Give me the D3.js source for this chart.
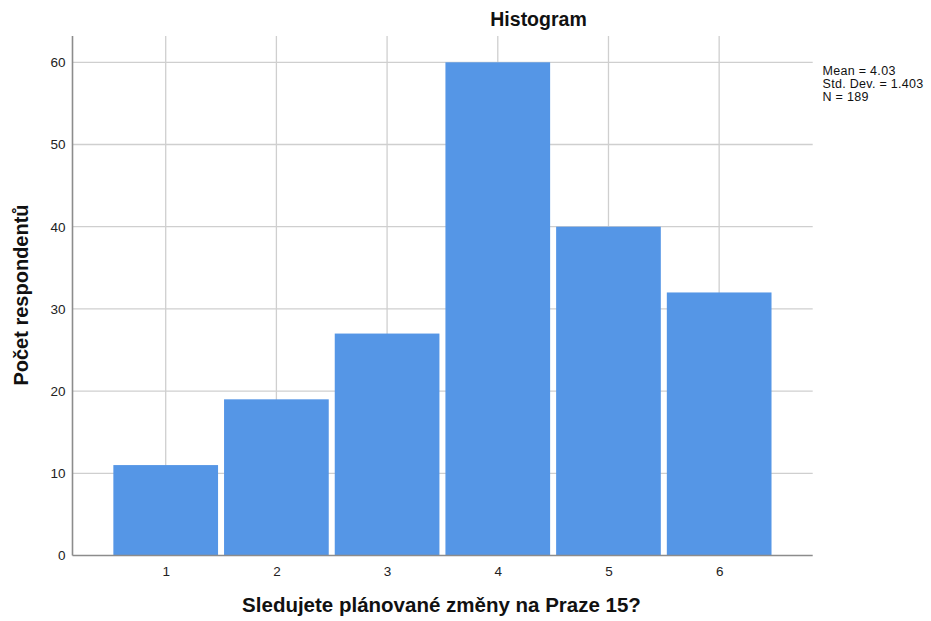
<!DOCTYPE html>
<html>
<head>
<meta charset="utf-8">
<script src="https://cdn.jsdelivr.net/npm/d3@7"></script>
<style>
  html, body { margin: 0; padding: 0; background: #fff; }
  svg { display: block; font-family: "Liberation Sans", Arial, sans-serif; }
</style>
</head>
<body>
<svg id="chart" width="931" height="621"></svg>
<script>
const categories = [1, 2, 3, 4, 5, 6];
const counts = [11, 19, 27, 60, 40, 32];
const yTicks = [0, 10, 20, 30, 40, 50, 60];
const statsLines = ["Mean = 4.03", "Std. Dev. = 1.403", "N = 189"];
const titleText = "Histogram";
const xLabel = "Sledujete plánované změny na Praze 15?";
const yLabel = "Počet respondentů";

const svg = d3.select("#chart");
const L = 72.5, R = 812.7, T = 36, B = 555.5;

const x = d3.scaleLinear().domain([0.158, 6.845]).range([L, R]);
const y = d3.scaleLinear().domain([0, 60]).range([B, 62.3]);

const barColor = "#5596E6";
const gridColor = "#cfcfcf";
const axisColor = "#8c8c8c";

// grid
const g = svg.append("g");
g.selectAll("line.hg").data(yTicks.filter(d => d > 0)).join("line")
  .attr("x1", L).attr("x2", R)
  .attr("y1", d => y(d)).attr("y2", d => y(d))
  .attr("stroke", gridColor).attr("stroke-width", 1.3);
g.selectAll("line.vg").data(categories).join("line")
  .attr("x1", d => x(d)).attr("x2", d => x(d))
  .attr("y1", T).attr("y2", B)
  .attr("stroke", gridColor).attr("stroke-width", 1.3);

// bars
const inset = 3;
svg.append("g").selectAll("rect").data(categories).join("rect")
  .attr("x", d => x(d - 0.5) + inset)
  .attr("width", d => x(d + 0.5) - x(d - 0.5) - 2 * inset)
  .attr("y", (d, i) => y(counts[i]))
  .attr("height", (d, i) => y(0) - y(counts[i]))
  .attr("fill", barColor);

// axes
const yAxis = svg.append("g").attr("transform", `translate(${L},0)`)
  .call(d3.axisLeft(y).tickValues(yTicks).tickSize(0).tickPadding(7));
yAxis.select(".domain").remove();
yAxis.selectAll("text").attr("font-size", 13.5).attr("fill", "#222")
  .attr("font-family", "Liberation Sans, Arial, sans-serif");

const xAxis = svg.append("g").attr("transform", `translate(0,${B})`)
  .call(d3.axisBottom(x).tickValues(categories).tickSize(0).tickPadding(11).tickFormat(d3.format("d")));
xAxis.select(".domain").remove();
xAxis.selectAll("text").attr("font-size", 13.5).attr("fill", "#222")
  .attr("font-family", "Liberation Sans, Arial, sans-serif");

svg.append("line").attr("x1", L).attr("x2", L).attr("y1", T).attr("y2", B)
  .attr("stroke", axisColor).attr("stroke-width", 1.6);
svg.append("line").attr("x1", L).attr("x2", R).attr("y1", B).attr("y2", B)
  .attr("stroke", axisColor).attr("stroke-width", 1.6);

// title
svg.append("text").attr("x", 538.5).attr("y", 26)
  .attr("text-anchor", "middle").attr("font-size", 19.5).attr("font-weight", "bold")
  .attr("fill", "#111").text(titleText);

// stats
svg.append("g").selectAll("text").data(statsLines).join("text")
  .attr("x", 822.5).attr("y", (d, i) => 75 + i * 13)
  .attr("font-size", 12.5).attr("letter-spacing", 0.3).attr("fill", "#111").text(d => d);

// axis labels
svg.append("text").attr("x", 441.5).attr("y", 612)
  .attr("text-anchor", "middle").attr("font-size", 20.5).attr("font-weight", "bold")
  .attr("fill", "#111").text(xLabel);
svg.append("text").attr("transform", "translate(28,295) rotate(-90)")
  .attr("text-anchor", "middle").attr("font-size", 20).attr("font-weight", "bold")
  .attr("fill", "#111").text(yLabel);
</script>
</body>
</html>
